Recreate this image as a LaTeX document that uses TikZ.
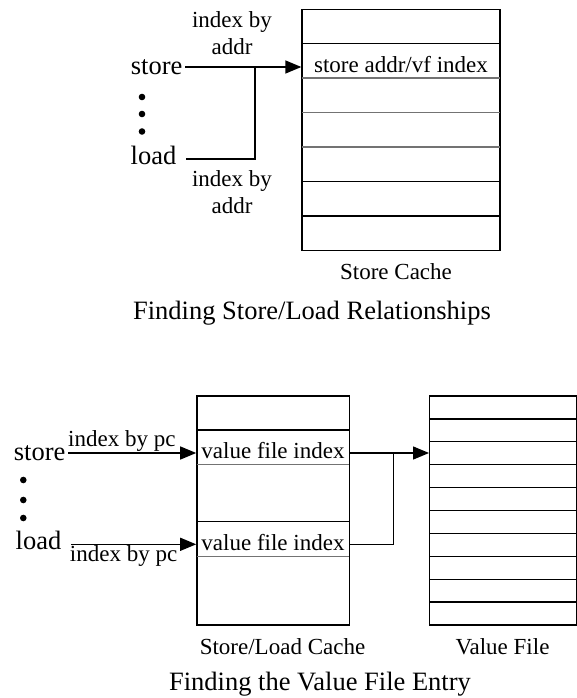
\documentclass[tikz,border=0pt]{standalone}
\usepackage{fontspec}
\setmainfont{Liberation Serif}
\usepackage{tikz}
\usetikzlibrary{arrows.meta,positioning}

\begin{document}
\begin{tikzpicture}[x=1pt,y=-1pt,>={Triangle[length=16pt,width=13pt]},line width=1.3pt,
    big/.style={font=\fontsize{26.5}{30}\selectfont,inner sep=2pt},
    lbl/.style={font=\fontsize{23}{27.5}\selectfont,inner sep=2pt,align=center},
    cachebox/.style={rectangle,draw,minimum width=#1,inner sep=0pt}]
    \useasboundingbox (0,0) rectangle (577,698);

    % store cache with its rows
    \node[cachebox=198pt,minimum height=241.5pt] (sc) at (401,130) {};
    \foreach \y/\c in {43.5/black,78/black!55,112.5/black!55,147/black!55,181.5/black,216/black}
      \draw[draw=\c] (302,\y) -- (500,\y);
    \node[lbl] (scent) at (401,65) {store addr/vf index};

    \node[big,anchor=east] (store) at (185,67) {store};
    \node[big,anchor=east] (load) at (179,155) {load};
    \foreach \y in {97,114,131.5}
      \fill (142,\y) circle (3.3pt);
    \node[lbl] (ia) at (232,33) {index by\\addr};
    \node[lbl] (ib) at (232,192) {index by\\addr};

    \coordinate (jn) at (255,67);
    \coordinate (ldin) at ([xshift=7pt,yshift=-4pt]load.east);
    \draw[->] (store.east) -- (store.east -| sc.west);
    \draw (ldin) -| (jn);

    \node[lbl] (sclbl) at (396,271.5) {Store Cache};
    \node[big] (t1) at (312,313) {Finding Store/Load Relationships};

    % store/load cache and value file
    \node[cachebox=152.3pt,minimum height=229pt] (slc) at (273,510.5) {};
    \foreach \y/\c in {430/black,464.3/black!55,521.7/black,556.7/black!55}
      \draw[draw=\c] (196.7,\y) -- (349,\y);
    \node[lbl] (vfi1) at (273,451) {value file index};
    \node[lbl] (vfi2) at (273,543) {value file index};

    \node[cachebox=146.6pt,minimum height=229pt] (vf) at (503,510.5) {};
    \foreach \i in {1,...,9}
      \draw (429.7,{396+22.9*\i}) -- (576.3,{396+22.9*\i});

    \node[big,anchor=east] (st2) at (68,453) {store};
    \node[big,anchor=east] (ld2) at (64,540) {load};
    \foreach \y in {480,500,518}
      \fill (23.3,\y) circle (3.3pt);

    \coordinate (jn2) at (393.3,453);
    \coordinate (ldout) at ([xshift=7pt,yshift=-4.3pt]ld2.east);
    \draw[->] (st2.east) -- (st2.east -| slc.west)
      node[lbl,above,pos=.42,inner sep=1pt] (ipc1) {index by pc};
    \draw[->] (ldout) -- (ldout -| slc.west)
      node[lbl,below,pos=.42,inner sep=1pt] (ipc2) {index by pc};
    \draw[->] (st2.east -| slc.east) -- (st2.east -| vf.west);
    \draw (ldout -| slc.east) -| (jn2);

    \node[lbl] (slclbl) at (282.5,646.7) {Store/Load Cache};
    \node[lbl] (vflbl) at (502.5,646.7) {Value File};
    \node[big] (t2) at (320,684) {Finding the Value File Entry};
\end{tikzpicture}
\end{document}
